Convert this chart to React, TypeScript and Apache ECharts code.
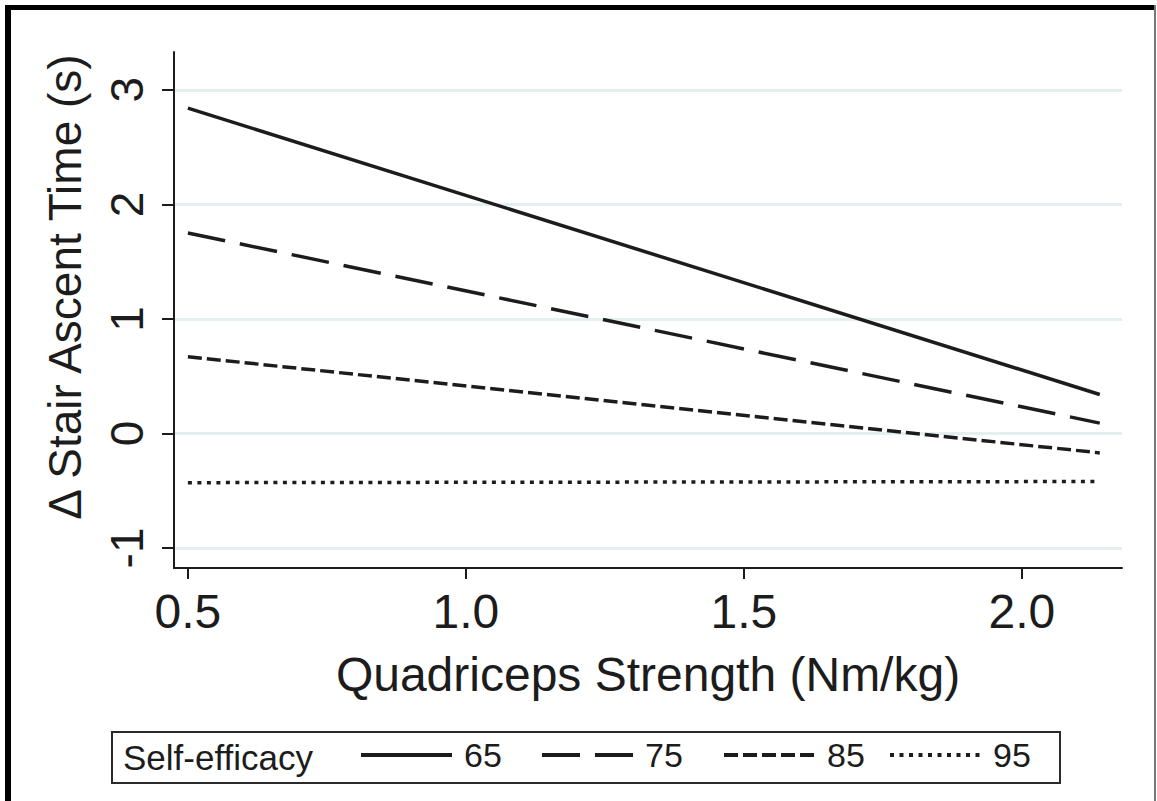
import React, { useEffect, useRef } from "react";
import * as echarts from "echarts";

const xValues = [0.5, 2.14];
const seriesNames = ["65", "75", "85", "95"];
const series65 = [2.84, 0.34];
const series75 = [1.75, 0.09];
const series85 = [0.67, -0.17];
const series95 = [-0.43, -0.42];
const xTicks = [0.5, 1.0, 1.5, 2.0];
const yTicks = [-1, 0, 1, 2, 3];
const xTitle = "Quadriceps Strength (Nm/kg)";
const yTitle = "Δ Stair Ascent Time (s)";
const legendTitle = "Self-efficacy";

const FONT = "'Liberation Sans', Arial, sans-serif";
const INK = "#1c1c1c";

const dashStyles: any[] = [
  { type: "solid" },
  { type: [38, 15] },
  { type: [14, 5] },
  { type: [4, 5.5] },
];
const legendLefts = [359, 540, 722, 888];

export default function App() {
  const ref = useRef<HTMLDivElement>(null);
  useEffect(() => {
    if (!ref.current) return;
    const chart = echarts.init(ref.current, null, { renderer: "svg" });
    const allValues = [series65, series75, series85, series95];
    const option: any = {
      animation: false,
      backgroundColor: "#ffffff",
      textStyle: { fontFamily: FONT },
      grid: { left: 174, right: 35, top: 52, bottom: 233, containLabel: false },
      xAxis: {
        type: "value",
        min: 0.475,
        max: 2.18,
        name: xTitle,
        nameLocation: "middle",
        nameGap: 82,
        nameTextStyle: { fontSize: 48, color: INK, fontFamily: FONT },
        axisLine: { show: true, onZero: false, lineStyle: { color: INK, width: 2 } },
        axisTick: { show: true, length: 11, lineStyle: { color: INK, width: 2 }, customValues: xTicks },
        axisLabel: {
          customValues: xTicks,
          fontSize: 48,
          color: INK,
          margin: 19,
          fontFamily: FONT,
          formatter: (v: number) => v.toFixed(1),
        },
        splitLine: { show: false },
      },
      yAxis: {
        type: "value",
        min: -1.175,
        max: 3.33,
        name: yTitle,
        nameLocation: "middle",
        nameGap: 86,
        nameTextStyle: { fontSize: 46, color: INK, fontFamily: FONT, padding: [0, 0, 0, 46] },
        axisLine: { show: true, onZero: false, lineStyle: { color: INK, width: 2 } },
        axisTick: { show: true, length: 12, lineStyle: { color: INK, width: 2 }, customValues: yTicks },
        axisLabel: {
          customValues: yTicks,
          rotate: 90,
          fontSize: 46,
          color: INK,
          margin: 24,
          fontFamily: FONT,
        },
        splitLine: { show: true, lineStyle: { color: "#e6eff0", width: 3 } },
      },
      legend: seriesNames.map((n, i) => ({
        data: [n],
        left: legendLefts[i],
        top: 738,
        itemWidth: 91,
        itemHeight: 14,
        itemGap: 0,
        padding: 0,
        selectedMode: false,
        itemStyle: { opacity: 0, color: "transparent", borderWidth: 0 },
        lineStyle: { width: 4 },
        textStyle: { fontSize: 34, color: INK, fontFamily: FONT, padding: [0, 0, 0, 7] },
      })),
      series: seriesNames.map((n, i) => ({
        name: n,
        type: "line",
        data: xValues.map((x, j) => [x, allValues[i][j]]),
        symbol: "none",
        color: INK,
        lineStyle: { color: INK, width: 3.5, ...dashStyles[i] },
      })),
      graphic: [
        {
          type: "rect",
          shape: { x: 112, y: 732, width: 948, height: 51 },
          style: { fill: "none", stroke: "#2a2a2a", lineWidth: 2 },
          silent: true,
        },
        {
          type: "text",
          x: 123,
          y: 757,
          style: {
            text: legendTitle,
            fontSize: 35,
            fontFamily: FONT,
            fill: INK,
            verticalAlign: "middle",
            align: "left",
          },
          silent: true,
        },
        {
          type: "line",
          shape: { x1: 8, y1: 5, x2: 8, y2: 801 },
          style: { stroke: "#000", lineWidth: 6 },
          silent: true,
        },
        {
          type: "line",
          shape: { x1: 5, y1: 7.5, x2: 1156, y2: 7.5 },
          style: { stroke: "#000", lineWidth: 5 },
          silent: true,
        },
        {
          type: "line",
          shape: { x1: 1155, y1: 5, x2: 1155, y2: 801 },
          style: { stroke: "#777", lineWidth: 2 },
          silent: true,
        },
      ],
    };
    chart.setOption(option);
    return () => chart.dispose();
  }, []);
  return (
    <div
      ref={ref}
      style={{ position: "absolute", left: 0, top: 0, width: 1157, height: 801, background: "#fff" }}
    />
  );
}
